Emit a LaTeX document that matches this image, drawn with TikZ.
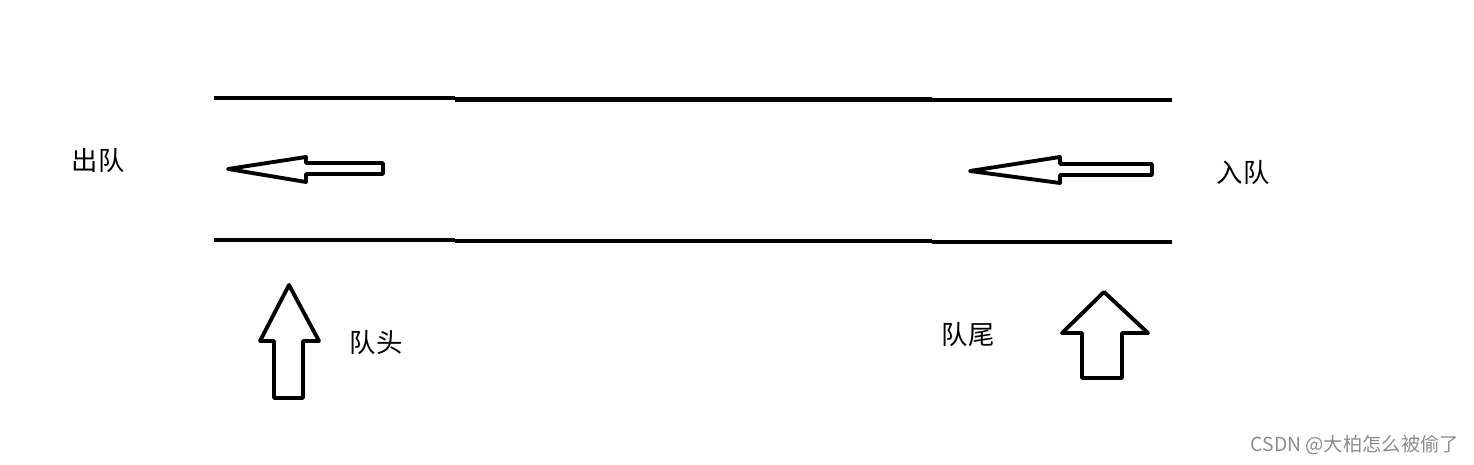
\documentclass[tikz,border=0pt]{standalone}
\usepackage{fontspec}
\newfontfamily\cjk{Noto Sans CJK SC}
\usetikzlibrary{positioning}

\tikzset{
  wall/.style={line width=2.5pt},
  hollow/.style={line width=2.2pt, line join=round},
  label/.style={font=\cjk\fontsize{15}{18}\selectfont},
}

\begin{document}
\begin{tikzpicture}[x=0.02cm, y=-0.02cm]
  \useasboundingbox (0,0) rectangle (1474,465);
  % queue walls
  \draw[wall] (214,98) -- (455,98);
  \draw[wall] (455,99.5) -- (932,99.5);
  \draw[wall] (932,100) -- (1172,100);
  \draw[wall] (214,240) -- (455,240);
  \draw[wall] (455,241) -- (932,241);
  \draw[wall] (932,242) -- (1172,242);
  % left-pointing arrows inside the queue
  \draw[hollow] (228,169) -- (306,157) -- (306,163) -- (383,163) -- (383,174)
                -- (306,174) -- (306,182) -- cycle;
  \draw[hollow] (970,171) -- (1060,157) -- (1060,164) -- (1152,164) -- (1152,175)
                -- (1060,175) -- (1060,183) -- cycle;
  % up arrows under the queue
  \draw[hollow] (289,285) -- (319,341) -- (303,341) -- (303,398) -- (274,398)
                -- (274,341) -- (260,341) -- cycle;
  \draw[hollow] (1104,292) -- (1148,333) -- (1122,333) -- (1122,378) -- (1082,378)
                -- (1082,333) -- (1062,333) -- cycle;
  % labels
  \node[label] (dequeue) at (98,161) {出队};
  \node[label] (enqueue) at (1243,173) {入队};
  \node[label] (head) at (376,343) {队头};
  \node[label] (tail) at (968,335) {队尾};
  \node[font=\cjk\fontsize{11}{13}\selectfont, text=black!45] (mark) at (1355,445) {CSDN @大柏怎么被偷了};
\end{tikzpicture}
\end{document}
